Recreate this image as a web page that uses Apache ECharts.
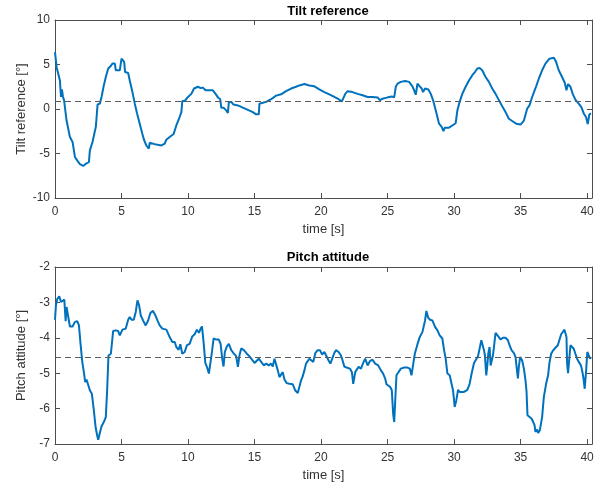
<!DOCTYPE html>
<html>
<head>
<meta charset="utf-8">
<script src="https://cdn.jsdelivr.net/npm/echarts@6/dist/echarts.min.js"></script>
<style>
  html, body { margin: 0; padding: 0; background: #ffffff; }
  #chart { width: 603px; height: 487px; }
</style>
</head>
<body>
<div id="chart"></div>
<script>
// Tilt reference [deg] over time [s]
const tiltTime = [0,0.12,0.25,0.37,0.45,0.52,0.6,0.68,0.87,1.12,1.32,1.5,1.68,1.87,2.12,2.37,2.55,2.62,2.82,3.07,3.2,3.37,3.5,3.67,3.82,4.0,4.17,4.32,4.5,4.57,4.87,5.0,5.12,5.2,5.27,5.5,5.62,5.82,6.0,6.17,6.37,6.57,6.7,6.87,7.05,7.12,7.25,7.62,8.0,8.25,8.37,8.62,8.92,9.12,9.37,9.5,9.57,9.75,10.0,10.25,10.45,10.75,10.95,11.12,11.22,11.32,11.62,11.87,12.07,12.25,12.42,12.5,12.67,12.87,13.0,13.07,13.25,13.42,13.75,14.12,14.5,14.87,15.12,15.32,15.37,15.62,15.87,16.25,16.62,17.0,17.37,17.75,18.12,18.37,18.75,19.12,19.5,19.87,20.25,20.62,21.0,21.32,21.57,21.7,21.82,22.0,22.37,22.75,23.12,23.5,23.87,24.25,24.42,24.62,24.87,25.12,25.32,25.5,25.62,25.75,26.0,26.32,26.62,26.87,27.0,27.12,27.25,27.42,27.57,27.67,27.82,28.07,28.25,28.42,28.62,28.75,28.87,29.07,29.2,29.3,29.62,29.87,30.12,30.25,30.42,30.62,30.87,31.12,31.37,31.57,31.75,31.92,32.12,32.37,32.62,32.87,33.12,33.37,33.62,33.87,34.12,34.37,34.67,35.0,35.25,35.5,35.67,35.87,36.17,36.37,36.62,36.87,37.17,37.5,37.67,37.87,38.12,38.32,38.45,38.57,38.75,38.92,39.12,39.37,39.57,39.75,39.92,40.05,40.17,40.3];
const tiltValue = [6.4,4.7,4.5,3.2,1.35,2.2,1.35,1.0,-1.3,-3.15,-3.7,-5.4,-5.8,-6.2,-6.4,-6.1,-5.97,-4.65,-3.7,-2.0,0.5,0.6,1.35,2.65,3.6,4.55,4.8,5.1,5.1,4.35,4.35,5.65,5.65,5.3,4.15,4.05,3.2,1.9,0.6,-0.5,-1.65,-2.8,-3.5,-4.1,-4.45,-3.8,-4.0,-4.0,-4.1,-3.9,-3.45,-3.15,-2.8,-1.85,-0.9,-0.35,0.9,0.9,1.35,1.7,2.3,2.5,2.35,2.4,2.55,2.1,2.1,2.1,1.7,1.3,1.1,0.15,0.15,-0.15,-0.45,0.8,0.8,0.5,0.4,0.15,-0.1,-0.35,-0.6,-0.6,0.6,0.7,0.8,1.1,1.5,1.65,2.0,2.3,2.5,2.65,2.8,2.65,2.55,2.2,1.9,1.65,1.35,1.1,0.85,1.05,1.7,2.0,1.9,1.7,1.55,1.35,1.35,1.3,1.0,1.15,1.25,1.35,1.4,1.3,2.5,2.85,3.05,3.15,3.05,2.55,2.1,1.6,2.85,2.55,2.3,1.9,2.3,2.2,1.7,1.0,-0.15,-0.9,-1.65,-2.0,-2.5,-2.1,-2.1,-1.85,-1.6,-0.15,0.8,1.7,2.5,3.2,3.8,4.15,4.55,4.6,4.35,3.6,3.05,2.3,1.7,1.0,0.3,-0.35,-1.1,-1.35,-1.65,-1.75,-1.3,0.05,0.4,1.35,2.55,3.4,4.35,5.1,5.65,5.75,5.3,4.35,3.6,2.95,2.1,2.8,2.5,1.7,1.05,0.6,0.2,-0.5,-0.9,-1.7,-0.6,-0.5];
const tiltMean = 0.9;

// Pitch attitude [deg] over time [s]
const pitchTime = [0,0.07,0.17,0.32,0.45,0.57,0.7,0.8,0.87,1.0,1.12,1.32,1.5,1.67,1.8,1.92,2.05,2.17,2.27,2.37,2.52,2.62,2.77,2.92,3.05,3.17,3.25,3.37,3.5,3.67,3.82,3.92,4.02,4.2,4.37,4.57,4.75,4.87,5.07,5.32,5.5,5.62,5.75,5.92,6.07,6.2,6.32,6.45,6.62,6.82,7.0,7.17,7.37,7.55,7.7,7.87,8.07,8.37,8.62,8.82,9.0,9.12,9.3,9.42,9.57,9.75,9.92,10.12,10.32,10.5,10.67,10.82,10.95,11.05,11.17,11.3,11.42,11.57,11.7,11.8,11.92,12.12,12.32,12.45,12.57,12.67,12.77,12.92,13.07,13.25,13.42,13.62,13.75,13.87,14.0,14.2,14.42,14.62,14.75,14.87,15.0,15.12,15.32,15.5,15.7,15.87,16.07,16.25,16.37,16.5,16.62,16.75,16.87,17.0,17.12,17.25,17.42,17.62,17.87,18.05,18.25,18.37,18.5,18.62,18.75,18.87,19.0,19.12,19.25,19.42,19.57,19.75,19.92,20.07,20.25,20.37,20.57,20.7,20.87,21.0,21.12,21.32,21.5,21.62,21.75,21.92,22.17,22.32,22.42,22.57,22.67,22.82,23.0,23.17,23.32,23.5,23.67,23.87,24.07,24.3,24.5,24.67,24.82,24.92,25.07,25.2,25.32,25.42,25.5,25.57,25.67,25.82,26.0,26.12,26.25,26.5,26.67,26.8,26.92,27.05,27.25,27.42,27.62,27.75,27.82,27.92,28.05,28.2,28.37,28.57,28.75,28.92,29.12,29.25,29.37,29.5,29.67,29.82,29.92,30.05,30.17,30.3,30.42,30.57,30.75,30.87,31.0,31.17,31.32,31.5,31.62,31.8,31.92,32.05,32.17,32.25,32.32,32.42,32.5,32.57,32.67,32.75,32.82,32.92,33.0,33.12,33.25,33.37,33.5,33.67,33.87,34.05,34.17,34.32,34.5,34.62,34.7,34.8,34.87,34.97,35.12,35.25,35.37,35.45,35.52,35.67,35.82,35.95,36.05,36.12,36.25,36.32,36.45,36.55,36.62,36.75,36.92,37.07,37.17,37.3,37.42,37.55,37.67,37.8,37.92,38.05,38.17,38.3,38.37,38.45,38.5,38.57,38.67,38.75,38.87,39.0,39.12,39.25,39.37,39.5,39.57,39.67,39.75,39.82,39.92,40.02,40.12,40.22,40.3];
const pitchValue = [-3.49,-3.08,-2.9,-2.83,-2.99,-2.97,-2.92,-3.53,-3.13,-3.11,-3.68,-3.68,-3.55,-3.53,-3.65,-4.17,-4.68,-4.97,-5.25,-5.18,-5.2,-5.48,-5.58,-6.05,-6.52,-6.76,-6.88,-6.69,-6.5,-6.38,-6.24,-5.48,-4.5,-4.45,-3.81,-3.79,-3.81,-3.93,-3.77,-3.74,-3.49,-3.41,-3.49,-3.49,-3.27,-2.94,-3.08,-3.37,-3.51,-3.65,-3.51,-3.3,-3.24,-3.37,-3.51,-3.65,-3.74,-3.77,-3.98,-4.12,-4.12,-4.26,-4.34,-4.18,-4.45,-4.4,-4.21,-4.17,-3.96,-3.9,-3.77,-3.86,-3.74,-3.68,-4.12,-4.71,-4.82,-5.01,-5.06,-4.4,-4.02,-4.05,-4.05,-4.17,-4.59,-4.81,-4.4,-4.24,-4.17,-4.35,-4.43,-4.52,-4.82,-4.49,-4.3,-4.35,-4.45,-4.52,-4.59,-4.56,-4.71,-4.68,-4.59,-4.68,-4.78,-4.73,-4.78,-4.73,-4.81,-4.59,-4.75,-4.92,-5.11,-5.15,-4.97,-5.18,-5.28,-5.3,-5.31,-5.48,-5.56,-5.53,-5.2,-5.09,-4.92,-4.73,-4.68,-4.59,-4.56,-4.68,-4.43,-4.35,-4.35,-4.47,-4.4,-4.45,-4.64,-4.73,-4.56,-4.43,-4.35,-4.4,-4.5,-4.64,-4.81,-4.84,-4.87,-4.97,-5.3,-4.97,-4.94,-4.82,-4.87,-4.71,-4.59,-4.78,-4.66,-4.62,-4.73,-4.78,-4.92,-5.01,-5.15,-5.31,-5.3,-5.39,-5.48,-6.14,-6.38,-6.41,-5.06,-5.03,-4.87,-4.92,-4.84,-4.84,-4.87,-5.06,-5.06,-4.45,-4.18,-3.98,-3.84,-3.79,-3.51,-3.24,-3.43,-3.49,-3.51,-3.69,-3.79,-3.93,-4.02,-4.35,-4.59,-5.01,-5.06,-5.06,-5.48,-5.95,-5.77,-5.47,-5.53,-5.48,-5.53,-5.56,-5.47,-5.3,-5.01,-4.71,-4.66,-4.52,-4.5,-4.07,-4.12,-4.35,-4.5,-5.06,-4.78,-4.45,-4.26,-4.78,-4.81,-4.5,-4.26,-3.86,-3.9,-3.98,-4.05,-4.0,-4.0,-4.07,-4.21,-4.35,-4.43,-4.54,-4.82,-5.15,-4.82,-4.54,-4.64,-4.87,-5.2,-5.53,-6.19,-6.24,-6.28,-6.38,-6.47,-6.66,-6.59,-6.69,-6.61,-6.66,-6.24,-5.67,-5.3,-5.06,-4.71,-4.45,-4.37,-4.31,-4.28,-4.21,-4.17,-3.9,-3.84,-3.77,-3.74,-3.98,-4.73,-5.0,-5.01,-4.21,-4.24,-4.31,-4.45,-4.59,-4.68,-4.75,-4.82,-5.01,-5.2,-5.44,-4.97,-4.4,-4.35,-4.59,-4.54];
const pitchMean = -4.56;

const timeMax = 40.37;
const tiltTicks = { min: -10, max: 10, interval: 5 };
const pitchTicks = { min: -7, max: -2, interval: 1 };

const pair = (xs, ys) => xs.map((x, i) => [x, ys[i]]);

const textColor = '#333333';
const axisColor = '#4d4d4d';
const font = 'Liberation Sans, Arial, Helvetica, sans-serif';

function bottomAxis(gridIndex) {
  return {
    type: 'value', gridIndex, min: 0, max: timeMax, interval: 5,
    name: 'time [s]', nameLocation: 'middle', nameGap: 25,
    nameTextStyle: { color: textColor, fontSize: 13, fontFamily: font },
    axisLine: { onZero: false, lineStyle: { color: axisColor, width: 1 } },
    axisTick: { inside: true, length: 5, lineStyle: { color: axisColor } },
    axisLabel: {
      color: textColor, fontSize: 12, fontFamily: font, margin: 8,
      formatter: v => (Math.abs(v % 5) < 1e-9 ? String(v) : '')
    },
    splitLine: { show: false }
  };
}
function topAxis(gridIndex) {
  return {
    type: 'value', gridIndex, position: 'top', min: 0, max: timeMax, interval: 5,
    axisLine: { onZero: false, lineStyle: { color: axisColor, width: 1 } },
    axisTick: { inside: true, length: 5, lineStyle: { color: axisColor } },
    axisLabel: { show: false }, splitLine: { show: false }
  };
}
function leftAxis(gridIndex, ticks, name) {
  return {
    type: 'value', gridIndex, position: 'left',
    min: ticks.min, max: ticks.max, interval: ticks.interval,
    name, nameLocation: 'middle', nameGap: 27, nameMoveOverlap: false,
    nameTextStyle: { color: textColor, fontSize: 13, fontFamily: font },
    axisLine: { show: true, onZero: false, lineStyle: { color: axisColor, width: 1 } },
    axisTick: { show: true, inside: true, length: 5, lineStyle: { color: axisColor } },
    axisLabel: { color: textColor, fontSize: 12, fontFamily: font, margin: 5 },
    splitLine: { show: false }
  };
}
function rightAxis(gridIndex, ticks) {
  return {
    type: 'value', gridIndex, position: 'right',
    min: ticks.min, max: ticks.max, interval: ticks.interval,
    axisLine: { show: true, onZero: false, lineStyle: { color: axisColor, width: 1 } },
    axisTick: { show: true, inside: true, length: 5, lineStyle: { color: axisColor } },
    axisLabel: { show: false }, splitLine: { show: false }
  };
}
function meanLine(value) {
  return {
    silent: true, symbol: 'none', label: { show: false },
    lineStyle: { color: '#5a5a5a', type: [6, 4], width: 1.2 },
    data: [{ yAxis: value }]
  };
}

const chart = echarts.init(document.getElementById('chart'), null, { renderer: 'canvas' });
chart.setOption({
  backgroundColor: '#ffffff',
  animation: false,
  title: [
    { text: 'Tilt reference', left: 323, textAlign: 'center', top: 0,
      textStyle: { fontSize: 13, fontWeight: 'bold', color: '#000', fontFamily: font } },
    { text: 'Pitch attitude', left: 323, textAlign: 'center', top: 246,
      textStyle: { fontSize: 13, fontWeight: 'bold', color: '#000', fontFamily: font } }
  ],
  grid: [
    { left: 55, right: 11, top: 20, height: 178 },
    { left: 55, right: 11, top: 267, height: 177 }
  ],
  xAxis: [bottomAxis(0), topAxis(0), bottomAxis(1), topAxis(1)],
  yAxis: [
    leftAxis(0, tiltTicks, 'Tilt reference [°]'), rightAxis(0, tiltTicks),
    leftAxis(1, pitchTicks, 'Pitch attitude [°]'), rightAxis(1, pitchTicks)
  ],
  series: [
    {
      type: 'line', xAxisIndex: 0, yAxisIndex: 0, data: pair(tiltTime, tiltValue),
      showSymbol: false, lineStyle: { color: '#0072BD', width: 2 },
      markLine: meanLine(tiltMean)
    },
    {
      type: 'line', xAxisIndex: 2, yAxisIndex: 2, data: pair(pitchTime, pitchValue),
      showSymbol: false, lineStyle: { color: '#0072BD', width: 2 },
      markLine: meanLine(pitchMean)
    }
  ]
});
</script>
</body>
</html>
